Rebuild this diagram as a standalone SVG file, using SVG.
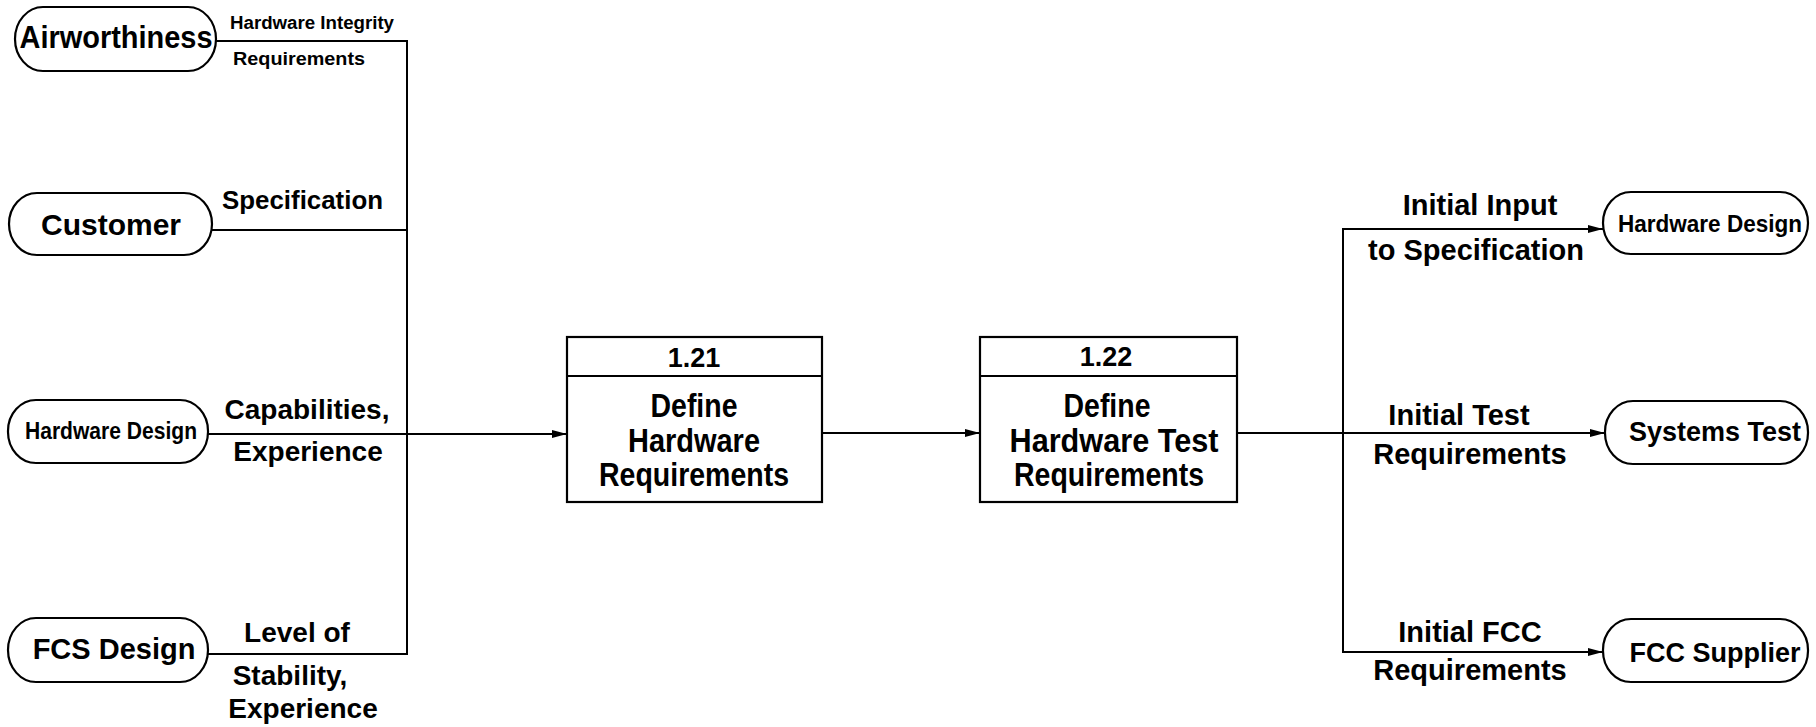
<svg xmlns="http://www.w3.org/2000/svg" width="1816" height="727" viewBox="0 0 1816 727">
<defs>
<style>
.pill{fill:#fff;stroke:#000;stroke-width:2.2}
.box{fill:#fff;stroke:#000;stroke-width:2.2}
.ln{fill:none;stroke:#000;stroke-width:2}
text{font-family:"Liberation Sans",Arial,Helvetica,sans-serif;font-weight:bold;fill:#000}
.m{text-anchor:middle}
</style>
<marker id="arr" markerUnits="userSpaceOnUse" markerWidth="16" markerHeight="12" refX="15" refY="6" orient="auto">
<path d="M0,2 L15,6 L0,10 z" fill="#000"/>
</marker>
</defs>
<rect width="1816" height="727" fill="#fff"/>

<g id="connectors">
<polyline class="ln" points="216,41 407,41 407,654 208,654"/>
<line class="ln" x1="212" y1="230" x2="407" y2="230"/>
<line class="ln" x1="208" y1="434" x2="567" y2="434" marker-end="url(#arr)"/>
<line class="ln" x1="822" y1="433" x2="980" y2="433" marker-end="url(#arr)"/>
<line class="ln" x1="1237" y1="433" x2="1605" y2="433" marker-end="url(#arr)"/>
<polyline class="ln" points="1600,229 1343,229 1343,652 1600,652"/>
<line class="ln" x1="1560" y1="229" x2="1603" y2="229" marker-end="url(#arr)"/>
<line class="ln" x1="1560" y1="652" x2="1603" y2="652" marker-end="url(#arr)"/>
<text x="230" y="29" font-size="18" textLength="164" lengthAdjust="spacingAndGlyphs">Hardware Integrity</text>
<text x="233" y="65" font-size="19" textLength="132" lengthAdjust="spacingAndGlyphs">Requirements</text>
<text x="222" y="209" font-size="26" textLength="161" lengthAdjust="spacingAndGlyphs">Specification</text>
<text class="m" x="307" y="419" font-size="28">Capabilities,</text>
<text class="m" x="308" y="461" font-size="28">Experience</text>
<text class="m" x="297" y="642" font-size="28">Level of</text>
<text class="m" x="290" y="685" font-size="28">Stability,</text>
<text class="m" x="303" y="718" font-size="28">Experience</text>
<text class="m" x="1480" y="215" font-size="29">Initial Input</text>
<text class="m" x="1476" y="260" font-size="29">to Specification</text>
<text class="m" x="1459" y="425" font-size="29">Initial Test</text>
<text class="m" x="1470" y="464" font-size="29">Requirements</text>
<text class="m" x="1470" y="642" font-size="29">Initial FCC</text>
<text class="m" x="1470" y="680" font-size="29">Requirements</text>
</g>

<g id="airworthiness">
<rect class="pill" x="15" y="7" width="201" height="64" rx="28" ry="32"/>
<text class="m" x="116" y="48" font-size="31" textLength="193" lengthAdjust="spacingAndGlyphs">Airworthiness</text>
</g>
<g id="customer">
<rect class="pill" x="9" y="193" width="203" height="62" rx="28" ry="31"/>
<text class="m" x="111" y="235" font-size="30">Customer</text>
</g>
<g id="hardware-design-in">
<rect class="pill" x="8" y="400" width="200" height="63" rx="28" ry="31"/>
<text class="m" x="111" y="439" font-size="24" textLength="172" lengthAdjust="spacingAndGlyphs">Hardware Design</text>
</g>
<g id="fcs-design">
<rect class="pill" x="8" y="618" width="200" height="64" rx="28" ry="32"/>
<text class="m" x="114" y="659" font-size="29">FCS Design</text>
</g>

<g id="box-1-21">
<rect class="box" x="567" y="337" width="255" height="165"/>
<line class="ln" x1="567" y1="376" x2="822" y2="376"/>
<text class="m" x="694" y="367" font-size="27">1.21</text>
<text class="m" x="694" y="417" font-size="33" textLength="87" lengthAdjust="spacingAndGlyphs">Define</text>
<text class="m" x="694" y="452" font-size="33" textLength="132" lengthAdjust="spacingAndGlyphs">Hardware</text>
<text class="m" x="694" y="486" font-size="33" textLength="190" lengthAdjust="spacingAndGlyphs">Requirements</text>
</g>
<g id="box-1-22">
<rect class="box" x="980" y="337" width="257" height="165"/>
<line class="ln" x1="980" y1="376" x2="1237" y2="376"/>
<text class="m" x="1106" y="366" font-size="27">1.22</text>
<text class="m" x="1107" y="417" font-size="33" textLength="87" lengthAdjust="spacingAndGlyphs">Define</text>
<text class="m" x="1114" y="452" font-size="33" textLength="209" lengthAdjust="spacingAndGlyphs">Hardware Test</text>
<text class="m" x="1109" y="486" font-size="33" textLength="190" lengthAdjust="spacingAndGlyphs">Requirements</text>
</g>

<g id="hardware-design-out">
<rect class="pill" x="1603" y="192" width="205" height="62" rx="28" ry="31"/>
<text class="m" x="1710" y="232" font-size="24" textLength="184" lengthAdjust="spacingAndGlyphs">Hardware Design</text>
</g>
<g id="systems-test">
<rect class="pill" x="1605" y="401" width="203" height="63" rx="28" ry="31"/>
<text class="m" x="1715" y="441" font-size="27">Systems Test</text>
</g>
<g id="fcc-supplier">
<rect class="pill" x="1603" y="619" width="205" height="63" rx="28" ry="31"/>
<text class="m" x="1715" y="662" font-size="27">FCC Supplier</text>
</g>
</svg>
